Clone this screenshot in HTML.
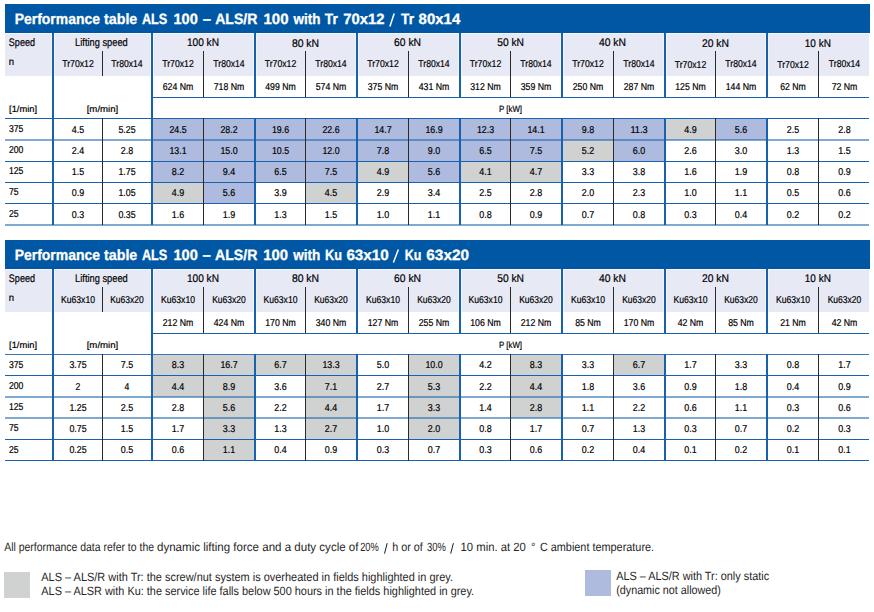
<!DOCTYPE html>
<html><head><meta charset="utf-8"><style>
html,body{margin:0;padding:0;background:#fff;}
body{width:874px;height:612px;overflow:hidden;}
svg{display:block;font-family:"Liberation Sans",sans-serif;text-rendering:geometricPrecision;}
</style></head><body>
<svg width="874" height="612" viewBox="0 0 874 612" shape-rendering="crispEdges">
<rect x="5" y="4" width="865" height="29" fill="#0057a4"/>
<text x="14.80" y="24.00" font-size="15" text-anchor="start" textLength="85.08" lengthAdjust="spacingAndGlyphs" fill="#ffffff" stroke="#ffffff" stroke-width="0.3" font-weight="bold">Performance</text>
<text x="104.10" y="24.00" font-size="15" text-anchor="start" textLength="33.19" lengthAdjust="spacingAndGlyphs" fill="#ffffff" stroke="#ffffff" stroke-width="0.3" font-weight="bold">table</text>
<text x="141.90" y="24.00" font-size="15" text-anchor="start" textLength="25.40" lengthAdjust="spacingAndGlyphs" fill="#ffffff" stroke="#ffffff" stroke-width="0.3" font-weight="bold">ALS</text>
<text x="173.50" y="24.00" font-size="15" text-anchor="start" textLength="24.28" lengthAdjust="spacingAndGlyphs" fill="#ffffff" stroke="#ffffff" stroke-width="0.3" font-weight="bold">100</text>
<text x="202.70" y="24.00" font-size="15" text-anchor="start" textLength="8.32" lengthAdjust="spacingAndGlyphs" fill="#ffffff" stroke="#ffffff" stroke-width="0.3" font-weight="bold">–</text>
<text x="215.20" y="24.00" font-size="15" text-anchor="start" textLength="42.20" lengthAdjust="spacingAndGlyphs" fill="#ffffff" stroke="#ffffff" stroke-width="0.3" font-weight="bold">ALS/R</text>
<text x="263.50" y="24.00" font-size="15" text-anchor="start" textLength="24.98" lengthAdjust="spacingAndGlyphs" fill="#ffffff" stroke="#ffffff" stroke-width="0.3" font-weight="bold">100</text>
<text x="293.57" y="24.00" font-size="15" text-anchor="start" textLength="26.93" lengthAdjust="spacingAndGlyphs" fill="#ffffff" stroke="#ffffff" stroke-width="0.3" font-weight="bold">with</text>
<text x="324.80" y="24.00" font-size="15" text-anchor="start" textLength="13.00" lengthAdjust="spacingAndGlyphs" fill="#ffffff" stroke="#ffffff" stroke-width="0.3" font-weight="bold">Tr</text>
<text x="343.30" y="24.00" font-size="15" text-anchor="start" textLength="41.21" lengthAdjust="spacingAndGlyphs" fill="#ffffff" stroke="#ffffff" stroke-width="0.3" font-weight="bold">70x12</text>
<line x1="394.20" y1="13.40" x2="389.90" y2="26.60" stroke="#ffffff" stroke-width="1.5" shape-rendering="geometricPrecision"/>
<text x="401.00" y="24.00" font-size="15" text-anchor="start" textLength="13.00" lengthAdjust="spacingAndGlyphs" fill="#ffffff" stroke="#ffffff" stroke-width="0.3" font-weight="bold">Tr</text>
<text x="418.60" y="24.00" font-size="15" text-anchor="start" textLength="41.61" lengthAdjust="spacingAndGlyphs" fill="#ffffff" stroke="#ffffff" stroke-width="0.3" font-weight="bold">80x14</text>
<rect x="5" y="33" width="865" height="1" fill="#f5f5fb"/>
<rect x="5" y="34" width="864" height="42" fill="#e7e9f5"/>
<rect x="51" y="34" width="1" height="42" fill="#f3f4fa"/>
<rect x="54" y="34" width="1" height="42" fill="#f3f4fa"/>
<rect x="150" y="34" width="1" height="42" fill="#f3f4fa"/>
<rect x="153" y="34" width="1" height="42" fill="#f3f4fa"/>
<rect x="253" y="34" width="1" height="42" fill="#f3f4fa"/>
<rect x="256" y="34" width="1" height="42" fill="#f3f4fa"/>
<rect x="355" y="34" width="1" height="42" fill="#f3f4fa"/>
<rect x="358" y="34" width="1" height="42" fill="#f3f4fa"/>
<rect x="458" y="34" width="1" height="42" fill="#f3f4fa"/>
<rect x="461" y="34" width="1" height="42" fill="#f3f4fa"/>
<rect x="560" y="34" width="1" height="42" fill="#f3f4fa"/>
<rect x="563" y="34" width="1" height="42" fill="#f3f4fa"/>
<rect x="663" y="34" width="1" height="42" fill="#f3f4fa"/>
<rect x="666" y="34" width="1" height="42" fill="#f3f4fa"/>
<rect x="765" y="34" width="1" height="42" fill="#f3f4fa"/>
<rect x="768" y="34" width="1" height="42" fill="#f3f4fa"/>
<rect x="153" y="119" width="50" height="21" fill="#aebbdf"/>
<rect x="204" y="119" width="50" height="21" fill="#aebbdf"/>
<rect x="256" y="119" width="49" height="21" fill="#aebbdf"/>
<rect x="306" y="119" width="50" height="21" fill="#aebbdf"/>
<rect x="358" y="119" width="50" height="21" fill="#aebbdf"/>
<rect x="409" y="119" width="50" height="21" fill="#aebbdf"/>
<rect x="461" y="119" width="49" height="21" fill="#aebbdf"/>
<rect x="511" y="119" width="50" height="21" fill="#aebbdf"/>
<rect x="563" y="119" width="50" height="21" fill="#aebbdf"/>
<rect x="614" y="119" width="50" height="21" fill="#aebbdf"/>
<rect x="666" y="119" width="49" height="21" fill="#d0d2d2"/>
<rect x="716" y="119" width="50" height="21" fill="#aebbdf"/>
<rect x="153" y="140" width="50" height="21" fill="#aebbdf"/>
<rect x="204" y="140" width="50" height="21" fill="#aebbdf"/>
<rect x="256" y="140" width="49" height="21" fill="#aebbdf"/>
<rect x="306" y="140" width="50" height="21" fill="#aebbdf"/>
<rect x="358" y="140" width="50" height="21" fill="#aebbdf"/>
<rect x="409" y="140" width="50" height="21" fill="#aebbdf"/>
<rect x="461" y="140" width="49" height="21" fill="#aebbdf"/>
<rect x="511" y="140" width="50" height="21" fill="#aebbdf"/>
<rect x="563" y="140" width="50" height="21" fill="#d0d2d2"/>
<rect x="614" y="140" width="50" height="21" fill="#aebbdf"/>
<rect x="153" y="162" width="50" height="20" fill="#aebbdf"/>
<rect x="204" y="162" width="50" height="20" fill="#aebbdf"/>
<rect x="256" y="162" width="49" height="20" fill="#aebbdf"/>
<rect x="306" y="162" width="50" height="20" fill="#aebbdf"/>
<rect x="358" y="162" width="50" height="20" fill="#d0d2d2"/>
<rect x="409" y="162" width="50" height="20" fill="#aebbdf"/>
<rect x="461" y="162" width="49" height="20" fill="#d0d2d2"/>
<rect x="511" y="162" width="50" height="20" fill="#d0d2d2"/>
<rect x="153" y="183" width="50" height="20" fill="#d0d2d2"/>
<rect x="204" y="183" width="50" height="20" fill="#aebbdf"/>
<rect x="306" y="183" width="50" height="20" fill="#d0d2d2"/>
<rect x="151" y="97" width="718" height="1" fill="#1862ad"/>
<rect x="5" y="118" width="864" height="1" fill="#1862ad" fill-opacity="1.0"/>
<rect x="5" y="139" width="864" height="2" fill="#1862ad" fill-opacity="0.55"/>
<rect x="5" y="161" width="864" height="1" fill="#1862ad" fill-opacity="1.0"/>
<rect x="5" y="182" width="864" height="1" fill="#1862ad" fill-opacity="1.0"/>
<rect x="5" y="203" width="864" height="1" fill="#1862ad" fill-opacity="1.0"/>
<rect x="5" y="224" width="864" height="2" fill="#1862ad" fill-opacity="0.55"/>
<rect x="52" y="33" width="2" height="192" fill="#1862ad"/>
<rect x="151" y="33" width="2" height="192" fill="#1862ad"/>
<rect x="254" y="33" width="2" height="64" fill="#1862ad"/>
<rect x="254" y="118" width="2" height="107" fill="#1862ad"/>
<rect x="356" y="33" width="2" height="64" fill="#1862ad"/>
<rect x="356" y="118" width="2" height="107" fill="#1862ad"/>
<rect x="459" y="33" width="2" height="64" fill="#1862ad"/>
<rect x="459" y="118" width="2" height="107" fill="#1862ad"/>
<rect x="561" y="33" width="2" height="64" fill="#1862ad"/>
<rect x="561" y="118" width="2" height="107" fill="#1862ad"/>
<rect x="664" y="33" width="2" height="64" fill="#1862ad"/>
<rect x="664" y="118" width="2" height="107" fill="#1862ad"/>
<rect x="766" y="33" width="2" height="64" fill="#1862ad"/>
<rect x="766" y="118" width="2" height="107" fill="#1862ad"/>
<rect x="102" y="51" width="1" height="25" fill="#2a2a2a"/>
<rect x="102" y="118" width="1" height="107" fill="#2a2a2a"/>
<rect x="203" y="51" width="1" height="46" fill="#2a2a2a"/>
<rect x="203" y="118" width="1" height="107" fill="#2a2a2a"/>
<rect x="305" y="51" width="1" height="46" fill="#2a2a2a"/>
<rect x="305" y="118" width="1" height="107" fill="#2a2a2a"/>
<rect x="408" y="51" width="1" height="46" fill="#2a2a2a"/>
<rect x="408" y="118" width="1" height="107" fill="#2a2a2a"/>
<rect x="510" y="51" width="1" height="46" fill="#2a2a2a"/>
<rect x="510" y="118" width="1" height="107" fill="#2a2a2a"/>
<rect x="613" y="51" width="1" height="46" fill="#2a2a2a"/>
<rect x="613" y="118" width="1" height="107" fill="#2a2a2a"/>
<rect x="715" y="51" width="1" height="46" fill="#2a2a2a"/>
<rect x="715" y="118" width="1" height="107" fill="#2a2a2a"/>
<rect x="818" y="51" width="1" height="46" fill="#2a2a2a"/>
<rect x="818" y="118" width="1" height="107" fill="#2a2a2a"/>
<text x="8.80" y="46.00" font-size="11" text-anchor="start" textLength="26.20" lengthAdjust="spacingAndGlyphs" fill="#000000" stroke="#000000" stroke-width="0.2">Speed</text>
<text x="75.10" y="46.00" font-size="11" text-anchor="start" textLength="52.70" lengthAdjust="spacingAndGlyphs" fill="#000000" stroke="#000000" stroke-width="0.2">Lifting speed</text>
<text x="202.95" y="46.00" font-size="11" text-anchor="middle" textLength="32.10" lengthAdjust="spacingAndGlyphs" fill="#000000" stroke="#000000" stroke-width="0.2">100 kN</text>
<text x="305.50" y="47.00" font-size="11" text-anchor="middle" textLength="27.20" lengthAdjust="spacingAndGlyphs" fill="#000000" stroke="#000000" stroke-width="0.2">80 kN</text>
<text x="407.60" y="46.00" font-size="11" text-anchor="middle" textLength="27.00" lengthAdjust="spacingAndGlyphs" fill="#000000" stroke="#000000" stroke-width="0.2">60 kN</text>
<text x="510.60" y="46.00" font-size="11" text-anchor="middle" textLength="26.80" lengthAdjust="spacingAndGlyphs" fill="#000000" stroke="#000000" stroke-width="0.2">50 kN</text>
<text x="612.50" y="46.00" font-size="11" text-anchor="middle" textLength="27.00" lengthAdjust="spacingAndGlyphs" fill="#000000" stroke="#000000" stroke-width="0.2">40 kN</text>
<text x="715.40" y="47.00" font-size="11" text-anchor="middle" textLength="27.00" lengthAdjust="spacingAndGlyphs" fill="#000000" stroke="#000000" stroke-width="0.2">20 kN</text>
<text x="817.85" y="47.00" font-size="11" text-anchor="middle" textLength="26.10" lengthAdjust="spacingAndGlyphs" fill="#000000" stroke="#000000" stroke-width="0.2">10 kN</text>
<text x="8.80" y="65.00" font-size="10" text-anchor="start" textLength="5.30" lengthAdjust="spacingAndGlyphs" fill="#000000" stroke="#000000" stroke-width="0.2">n</text>
<text x="78.00" y="66.80" font-size="10" text-anchor="middle" textLength="31.50" lengthAdjust="spacingAndGlyphs" fill="#000000" stroke="#000000" stroke-width="0.2">Tr70x12</text>
<text x="127.00" y="66.80" font-size="10" text-anchor="middle" textLength="31.30" lengthAdjust="spacingAndGlyphs" fill="#000000" stroke="#000000" stroke-width="0.2">Tr80x14</text>
<text x="178.00" y="66.80" font-size="10" text-anchor="middle" textLength="31.50" lengthAdjust="spacingAndGlyphs" fill="#000000" stroke="#000000" stroke-width="0.2">Tr70x12</text>
<text x="178.00" y="90.00" font-size="10" text-anchor="middle" textLength="30.56" lengthAdjust="spacingAndGlyphs" fill="#000000" stroke="#000000" stroke-width="0.2">624 Nm</text>
<text x="229.00" y="66.80" font-size="10" text-anchor="middle" textLength="31.30" lengthAdjust="spacingAndGlyphs" fill="#000000" stroke="#000000" stroke-width="0.2">Tr80x14</text>
<text x="229.00" y="90.00" font-size="10" text-anchor="middle" textLength="30.56" lengthAdjust="spacingAndGlyphs" fill="#000000" stroke="#000000" stroke-width="0.2">718 Nm</text>
<text x="280.50" y="66.80" font-size="10" text-anchor="middle" textLength="31.50" lengthAdjust="spacingAndGlyphs" fill="#000000" stroke="#000000" stroke-width="0.2">Tr70x12</text>
<text x="280.50" y="90.00" font-size="10" text-anchor="middle" textLength="30.56" lengthAdjust="spacingAndGlyphs" fill="#000000" stroke="#000000" stroke-width="0.2">499 Nm</text>
<text x="331.00" y="66.80" font-size="10" text-anchor="middle" textLength="31.30" lengthAdjust="spacingAndGlyphs" fill="#000000" stroke="#000000" stroke-width="0.2">Tr80x14</text>
<text x="331.00" y="90.00" font-size="10" text-anchor="middle" textLength="30.56" lengthAdjust="spacingAndGlyphs" fill="#000000" stroke="#000000" stroke-width="0.2">574 Nm</text>
<text x="383.00" y="66.80" font-size="10" text-anchor="middle" textLength="31.50" lengthAdjust="spacingAndGlyphs" fill="#000000" stroke="#000000" stroke-width="0.2">Tr70x12</text>
<text x="383.00" y="90.00" font-size="10" text-anchor="middle" textLength="30.56" lengthAdjust="spacingAndGlyphs" fill="#000000" stroke="#000000" stroke-width="0.2">375 Nm</text>
<text x="434.00" y="66.80" font-size="10" text-anchor="middle" textLength="31.30" lengthAdjust="spacingAndGlyphs" fill="#000000" stroke="#000000" stroke-width="0.2">Tr80x14</text>
<text x="434.00" y="90.00" font-size="10" text-anchor="middle" textLength="30.56" lengthAdjust="spacingAndGlyphs" fill="#000000" stroke="#000000" stroke-width="0.2">431 Nm</text>
<text x="485.50" y="66.80" font-size="10" text-anchor="middle" textLength="31.50" lengthAdjust="spacingAndGlyphs" fill="#000000" stroke="#000000" stroke-width="0.2">Tr70x12</text>
<text x="485.50" y="90.00" font-size="10" text-anchor="middle" textLength="30.56" lengthAdjust="spacingAndGlyphs" fill="#000000" stroke="#000000" stroke-width="0.2">312 Nm</text>
<text x="536.00" y="66.80" font-size="10" text-anchor="middle" textLength="31.30" lengthAdjust="spacingAndGlyphs" fill="#000000" stroke="#000000" stroke-width="0.2">Tr80x14</text>
<text x="536.00" y="90.00" font-size="10" text-anchor="middle" textLength="30.56" lengthAdjust="spacingAndGlyphs" fill="#000000" stroke="#000000" stroke-width="0.2">359 Nm</text>
<text x="588.00" y="66.80" font-size="10" text-anchor="middle" textLength="31.50" lengthAdjust="spacingAndGlyphs" fill="#000000" stroke="#000000" stroke-width="0.2">Tr70x12</text>
<text x="588.00" y="90.00" font-size="10" text-anchor="middle" textLength="30.56" lengthAdjust="spacingAndGlyphs" fill="#000000" stroke="#000000" stroke-width="0.2">250 Nm</text>
<text x="639.00" y="66.80" font-size="10" text-anchor="middle" textLength="31.30" lengthAdjust="spacingAndGlyphs" fill="#000000" stroke="#000000" stroke-width="0.2">Tr80x14</text>
<text x="639.00" y="90.00" font-size="10" text-anchor="middle" textLength="30.56" lengthAdjust="spacingAndGlyphs" fill="#000000" stroke="#000000" stroke-width="0.2">287 Nm</text>
<text x="690.50" y="68.30" font-size="10" text-anchor="middle" textLength="31.50" lengthAdjust="spacingAndGlyphs" fill="#000000" stroke="#000000" stroke-width="0.2">Tr70x12</text>
<text x="690.50" y="90.00" font-size="10" text-anchor="middle" textLength="30.56" lengthAdjust="spacingAndGlyphs" fill="#000000" stroke="#000000" stroke-width="0.2">125 Nm</text>
<text x="741.00" y="66.80" font-size="10" text-anchor="middle" textLength="31.30" lengthAdjust="spacingAndGlyphs" fill="#000000" stroke="#000000" stroke-width="0.2">Tr80x14</text>
<text x="741.00" y="90.00" font-size="10" text-anchor="middle" textLength="30.56" lengthAdjust="spacingAndGlyphs" fill="#000000" stroke="#000000" stroke-width="0.2">144 Nm</text>
<text x="793.00" y="68.30" font-size="10" text-anchor="middle" textLength="31.50" lengthAdjust="spacingAndGlyphs" fill="#000000" stroke="#000000" stroke-width="0.2">Tr70x12</text>
<text x="793.00" y="90.00" font-size="10" text-anchor="middle" textLength="25.75" lengthAdjust="spacingAndGlyphs" fill="#000000" stroke="#000000" stroke-width="0.2">62 Nm</text>
<text x="844.50" y="66.80" font-size="10" text-anchor="middle" textLength="31.30" lengthAdjust="spacingAndGlyphs" fill="#000000" stroke="#000000" stroke-width="0.2">Tr80x14</text>
<text x="844.50" y="90.00" font-size="10" text-anchor="middle" textLength="25.75" lengthAdjust="spacingAndGlyphs" fill="#000000" stroke="#000000" stroke-width="0.2">72 Nm</text>
<text x="9.10" y="111.80" font-size="9" text-anchor="start" textLength="27.90" lengthAdjust="spacingAndGlyphs" fill="#000000" stroke="#000000" stroke-width="0.2">[1/min]</text>
<text x="102.50" y="111.80" font-size="9" text-anchor="middle" textLength="31.60" lengthAdjust="spacingAndGlyphs" fill="#000000" stroke="#000000" stroke-width="0.2">[m/min]</text>
<text x="510.50" y="111.80" font-size="9" text-anchor="middle" textLength="23.10" lengthAdjust="spacingAndGlyphs" fill="#000000" stroke="#000000" stroke-width="0.2">P [kW]</text>
<text x="9.00" y="132.00" font-size="10" text-anchor="start" textLength="14.43" lengthAdjust="spacingAndGlyphs" fill="#000000" stroke="#000000" stroke-width="0.2">375</text>
<text x="78.00" y="133.00" font-size="10" text-anchor="middle" textLength="12.40" lengthAdjust="spacingAndGlyphs" fill="#000000" stroke="#000000" stroke-width="0.2">4.5</text>
<text x="127.00" y="133.00" font-size="10" text-anchor="middle" textLength="17.21" lengthAdjust="spacingAndGlyphs" fill="#000000" stroke="#000000" stroke-width="0.2">5.25</text>
<text x="178.00" y="133.00" font-size="10" text-anchor="middle" textLength="17.21" lengthAdjust="spacingAndGlyphs" fill="#000000" stroke="#000000" stroke-width="0.2">24.5</text>
<text x="229.00" y="133.00" font-size="10" text-anchor="middle" textLength="17.21" lengthAdjust="spacingAndGlyphs" fill="#000000" stroke="#000000" stroke-width="0.2">28.2</text>
<text x="280.50" y="133.00" font-size="10" text-anchor="middle" textLength="17.21" lengthAdjust="spacingAndGlyphs" fill="#000000" stroke="#000000" stroke-width="0.2">19.6</text>
<text x="331.00" y="133.00" font-size="10" text-anchor="middle" textLength="17.21" lengthAdjust="spacingAndGlyphs" fill="#000000" stroke="#000000" stroke-width="0.2">22.6</text>
<text x="383.00" y="133.00" font-size="10" text-anchor="middle" textLength="17.21" lengthAdjust="spacingAndGlyphs" fill="#000000" stroke="#000000" stroke-width="0.2">14.7</text>
<text x="434.00" y="133.00" font-size="10" text-anchor="middle" textLength="17.21" lengthAdjust="spacingAndGlyphs" fill="#000000" stroke="#000000" stroke-width="0.2">16.9</text>
<text x="485.50" y="133.00" font-size="10" text-anchor="middle" textLength="17.21" lengthAdjust="spacingAndGlyphs" fill="#000000" stroke="#000000" stroke-width="0.2">12.3</text>
<text x="536.00" y="133.00" font-size="10" text-anchor="middle" textLength="17.21" lengthAdjust="spacingAndGlyphs" fill="#000000" stroke="#000000" stroke-width="0.2">14.1</text>
<text x="588.00" y="133.00" font-size="10" text-anchor="middle" textLength="12.40" lengthAdjust="spacingAndGlyphs" fill="#000000" stroke="#000000" stroke-width="0.2">9.8</text>
<text x="639.00" y="133.00" font-size="10" text-anchor="middle" textLength="17.21" lengthAdjust="spacingAndGlyphs" fill="#000000" stroke="#000000" stroke-width="0.2">11.3</text>
<text x="690.50" y="133.00" font-size="10" text-anchor="middle" textLength="12.40" lengthAdjust="spacingAndGlyphs" fill="#000000" stroke="#000000" stroke-width="0.2">4.9</text>
<text x="741.00" y="133.00" font-size="10" text-anchor="middle" textLength="12.40" lengthAdjust="spacingAndGlyphs" fill="#000000" stroke="#000000" stroke-width="0.2">5.6</text>
<text x="793.00" y="133.00" font-size="10" text-anchor="middle" textLength="12.40" lengthAdjust="spacingAndGlyphs" fill="#000000" stroke="#000000" stroke-width="0.2">2.5</text>
<text x="844.50" y="133.00" font-size="10" text-anchor="middle" textLength="12.40" lengthAdjust="spacingAndGlyphs" fill="#000000" stroke="#000000" stroke-width="0.2">2.8</text>
<text x="9.00" y="153.00" font-size="10" text-anchor="start" textLength="14.43" lengthAdjust="spacingAndGlyphs" fill="#000000" stroke="#000000" stroke-width="0.2">200</text>
<text x="78.00" y="154.00" font-size="10" text-anchor="middle" textLength="12.40" lengthAdjust="spacingAndGlyphs" fill="#000000" stroke="#000000" stroke-width="0.2">2.4</text>
<text x="127.00" y="154.00" font-size="10" text-anchor="middle" textLength="12.40" lengthAdjust="spacingAndGlyphs" fill="#000000" stroke="#000000" stroke-width="0.2">2.8</text>
<text x="178.00" y="154.00" font-size="10" text-anchor="middle" textLength="17.21" lengthAdjust="spacingAndGlyphs" fill="#000000" stroke="#000000" stroke-width="0.2">13.1</text>
<text x="229.00" y="154.00" font-size="10" text-anchor="middle" textLength="17.21" lengthAdjust="spacingAndGlyphs" fill="#000000" stroke="#000000" stroke-width="0.2">15.0</text>
<text x="280.50" y="154.00" font-size="10" text-anchor="middle" textLength="17.21" lengthAdjust="spacingAndGlyphs" fill="#000000" stroke="#000000" stroke-width="0.2">10.5</text>
<text x="331.00" y="154.00" font-size="10" text-anchor="middle" textLength="17.21" lengthAdjust="spacingAndGlyphs" fill="#000000" stroke="#000000" stroke-width="0.2">12.0</text>
<text x="383.00" y="154.00" font-size="10" text-anchor="middle" textLength="12.40" lengthAdjust="spacingAndGlyphs" fill="#000000" stroke="#000000" stroke-width="0.2">7.8</text>
<text x="434.00" y="154.00" font-size="10" text-anchor="middle" textLength="12.40" lengthAdjust="spacingAndGlyphs" fill="#000000" stroke="#000000" stroke-width="0.2">9.0</text>
<text x="485.50" y="154.00" font-size="10" text-anchor="middle" textLength="12.40" lengthAdjust="spacingAndGlyphs" fill="#000000" stroke="#000000" stroke-width="0.2">6.5</text>
<text x="536.00" y="154.00" font-size="10" text-anchor="middle" textLength="12.40" lengthAdjust="spacingAndGlyphs" fill="#000000" stroke="#000000" stroke-width="0.2">7.5</text>
<text x="588.00" y="154.00" font-size="10" text-anchor="middle" textLength="12.40" lengthAdjust="spacingAndGlyphs" fill="#000000" stroke="#000000" stroke-width="0.2">5.2</text>
<text x="639.00" y="154.00" font-size="10" text-anchor="middle" textLength="12.40" lengthAdjust="spacingAndGlyphs" fill="#000000" stroke="#000000" stroke-width="0.2">6.0</text>
<text x="690.50" y="154.00" font-size="10" text-anchor="middle" textLength="12.40" lengthAdjust="spacingAndGlyphs" fill="#000000" stroke="#000000" stroke-width="0.2">2.6</text>
<text x="741.00" y="154.00" font-size="10" text-anchor="middle" textLength="12.40" lengthAdjust="spacingAndGlyphs" fill="#000000" stroke="#000000" stroke-width="0.2">3.0</text>
<text x="793.00" y="154.00" font-size="10" text-anchor="middle" textLength="12.40" lengthAdjust="spacingAndGlyphs" fill="#000000" stroke="#000000" stroke-width="0.2">1.3</text>
<text x="844.50" y="154.00" font-size="10" text-anchor="middle" textLength="12.40" lengthAdjust="spacingAndGlyphs" fill="#000000" stroke="#000000" stroke-width="0.2">1.5</text>
<text x="9.00" y="174.00" font-size="10" text-anchor="start" textLength="14.43" lengthAdjust="spacingAndGlyphs" fill="#000000" stroke="#000000" stroke-width="0.2">125</text>
<text x="78.00" y="175.00" font-size="10" text-anchor="middle" textLength="12.40" lengthAdjust="spacingAndGlyphs" fill="#000000" stroke="#000000" stroke-width="0.2">1.5</text>
<text x="127.00" y="175.00" font-size="10" text-anchor="middle" textLength="17.21" lengthAdjust="spacingAndGlyphs" fill="#000000" stroke="#000000" stroke-width="0.2">1.75</text>
<text x="178.00" y="175.00" font-size="10" text-anchor="middle" textLength="12.40" lengthAdjust="spacingAndGlyphs" fill="#000000" stroke="#000000" stroke-width="0.2">8.2</text>
<text x="229.00" y="175.00" font-size="10" text-anchor="middle" textLength="12.40" lengthAdjust="spacingAndGlyphs" fill="#000000" stroke="#000000" stroke-width="0.2">9.4</text>
<text x="280.50" y="175.00" font-size="10" text-anchor="middle" textLength="12.40" lengthAdjust="spacingAndGlyphs" fill="#000000" stroke="#000000" stroke-width="0.2">6.5</text>
<text x="331.00" y="175.00" font-size="10" text-anchor="middle" textLength="12.40" lengthAdjust="spacingAndGlyphs" fill="#000000" stroke="#000000" stroke-width="0.2">7.5</text>
<text x="383.00" y="175.00" font-size="10" text-anchor="middle" textLength="12.40" lengthAdjust="spacingAndGlyphs" fill="#000000" stroke="#000000" stroke-width="0.2">4.9</text>
<text x="434.00" y="175.00" font-size="10" text-anchor="middle" textLength="12.40" lengthAdjust="spacingAndGlyphs" fill="#000000" stroke="#000000" stroke-width="0.2">5.6</text>
<text x="485.50" y="175.00" font-size="10" text-anchor="middle" textLength="12.40" lengthAdjust="spacingAndGlyphs" fill="#000000" stroke="#000000" stroke-width="0.2">4.1</text>
<text x="536.00" y="175.00" font-size="10" text-anchor="middle" textLength="12.40" lengthAdjust="spacingAndGlyphs" fill="#000000" stroke="#000000" stroke-width="0.2">4.7</text>
<text x="588.00" y="175.00" font-size="10" text-anchor="middle" textLength="12.40" lengthAdjust="spacingAndGlyphs" fill="#000000" stroke="#000000" stroke-width="0.2">3.3</text>
<text x="639.00" y="175.00" font-size="10" text-anchor="middle" textLength="12.40" lengthAdjust="spacingAndGlyphs" fill="#000000" stroke="#000000" stroke-width="0.2">3.8</text>
<text x="690.50" y="175.00" font-size="10" text-anchor="middle" textLength="12.40" lengthAdjust="spacingAndGlyphs" fill="#000000" stroke="#000000" stroke-width="0.2">1.6</text>
<text x="741.00" y="175.00" font-size="10" text-anchor="middle" textLength="12.40" lengthAdjust="spacingAndGlyphs" fill="#000000" stroke="#000000" stroke-width="0.2">1.9</text>
<text x="793.00" y="175.00" font-size="10" text-anchor="middle" textLength="12.40" lengthAdjust="spacingAndGlyphs" fill="#000000" stroke="#000000" stroke-width="0.2">0.8</text>
<text x="844.50" y="175.00" font-size="10" text-anchor="middle" textLength="12.40" lengthAdjust="spacingAndGlyphs" fill="#000000" stroke="#000000" stroke-width="0.2">0.9</text>
<text x="9.00" y="195.00" font-size="10" text-anchor="start" textLength="9.62" lengthAdjust="spacingAndGlyphs" fill="#000000" stroke="#000000" stroke-width="0.2">75</text>
<text x="78.00" y="196.00" font-size="10" text-anchor="middle" textLength="12.40" lengthAdjust="spacingAndGlyphs" fill="#000000" stroke="#000000" stroke-width="0.2">0.9</text>
<text x="127.00" y="196.00" font-size="10" text-anchor="middle" textLength="17.21" lengthAdjust="spacingAndGlyphs" fill="#000000" stroke="#000000" stroke-width="0.2">1.05</text>
<text x="178.00" y="196.00" font-size="10" text-anchor="middle" textLength="12.40" lengthAdjust="spacingAndGlyphs" fill="#000000" stroke="#000000" stroke-width="0.2">4.9</text>
<text x="229.00" y="196.00" font-size="10" text-anchor="middle" textLength="12.40" lengthAdjust="spacingAndGlyphs" fill="#000000" stroke="#000000" stroke-width="0.2">5.6</text>
<text x="280.50" y="196.00" font-size="10" text-anchor="middle" textLength="12.40" lengthAdjust="spacingAndGlyphs" fill="#000000" stroke="#000000" stroke-width="0.2">3.9</text>
<text x="331.00" y="196.00" font-size="10" text-anchor="middle" textLength="12.40" lengthAdjust="spacingAndGlyphs" fill="#000000" stroke="#000000" stroke-width="0.2">4.5</text>
<text x="383.00" y="196.00" font-size="10" text-anchor="middle" textLength="12.40" lengthAdjust="spacingAndGlyphs" fill="#000000" stroke="#000000" stroke-width="0.2">2.9</text>
<text x="434.00" y="196.00" font-size="10" text-anchor="middle" textLength="12.40" lengthAdjust="spacingAndGlyphs" fill="#000000" stroke="#000000" stroke-width="0.2">3.4</text>
<text x="485.50" y="196.00" font-size="10" text-anchor="middle" textLength="12.40" lengthAdjust="spacingAndGlyphs" fill="#000000" stroke="#000000" stroke-width="0.2">2.5</text>
<text x="536.00" y="196.00" font-size="10" text-anchor="middle" textLength="12.40" lengthAdjust="spacingAndGlyphs" fill="#000000" stroke="#000000" stroke-width="0.2">2.8</text>
<text x="588.00" y="196.00" font-size="10" text-anchor="middle" textLength="12.40" lengthAdjust="spacingAndGlyphs" fill="#000000" stroke="#000000" stroke-width="0.2">2.0</text>
<text x="639.00" y="196.00" font-size="10" text-anchor="middle" textLength="12.40" lengthAdjust="spacingAndGlyphs" fill="#000000" stroke="#000000" stroke-width="0.2">2.3</text>
<text x="690.50" y="196.00" font-size="10" text-anchor="middle" textLength="12.40" lengthAdjust="spacingAndGlyphs" fill="#000000" stroke="#000000" stroke-width="0.2">1.0</text>
<text x="741.00" y="196.00" font-size="10" text-anchor="middle" textLength="12.40" lengthAdjust="spacingAndGlyphs" fill="#000000" stroke="#000000" stroke-width="0.2">1.1</text>
<text x="793.00" y="196.00" font-size="10" text-anchor="middle" textLength="12.40" lengthAdjust="spacingAndGlyphs" fill="#000000" stroke="#000000" stroke-width="0.2">0.5</text>
<text x="844.50" y="196.00" font-size="10" text-anchor="middle" textLength="12.40" lengthAdjust="spacingAndGlyphs" fill="#000000" stroke="#000000" stroke-width="0.2">0.6</text>
<text x="9.00" y="217.00" font-size="10" text-anchor="start" textLength="9.62" lengthAdjust="spacingAndGlyphs" fill="#000000" stroke="#000000" stroke-width="0.2">25</text>
<text x="78.00" y="218.00" font-size="10" text-anchor="middle" textLength="12.40" lengthAdjust="spacingAndGlyphs" fill="#000000" stroke="#000000" stroke-width="0.2">0.3</text>
<text x="127.00" y="218.00" font-size="10" text-anchor="middle" textLength="17.21" lengthAdjust="spacingAndGlyphs" fill="#000000" stroke="#000000" stroke-width="0.2">0.35</text>
<text x="178.00" y="218.00" font-size="10" text-anchor="middle" textLength="12.40" lengthAdjust="spacingAndGlyphs" fill="#000000" stroke="#000000" stroke-width="0.2">1.6</text>
<text x="229.00" y="218.00" font-size="10" text-anchor="middle" textLength="12.40" lengthAdjust="spacingAndGlyphs" fill="#000000" stroke="#000000" stroke-width="0.2">1.9</text>
<text x="280.50" y="218.00" font-size="10" text-anchor="middle" textLength="12.40" lengthAdjust="spacingAndGlyphs" fill="#000000" stroke="#000000" stroke-width="0.2">1.3</text>
<text x="331.00" y="218.00" font-size="10" text-anchor="middle" textLength="12.40" lengthAdjust="spacingAndGlyphs" fill="#000000" stroke="#000000" stroke-width="0.2">1.5</text>
<text x="383.00" y="218.00" font-size="10" text-anchor="middle" textLength="12.40" lengthAdjust="spacingAndGlyphs" fill="#000000" stroke="#000000" stroke-width="0.2">1.0</text>
<text x="434.00" y="218.00" font-size="10" text-anchor="middle" textLength="12.40" lengthAdjust="spacingAndGlyphs" fill="#000000" stroke="#000000" stroke-width="0.2">1.1</text>
<text x="485.50" y="218.00" font-size="10" text-anchor="middle" textLength="12.40" lengthAdjust="spacingAndGlyphs" fill="#000000" stroke="#000000" stroke-width="0.2">0.8</text>
<text x="536.00" y="218.00" font-size="10" text-anchor="middle" textLength="12.40" lengthAdjust="spacingAndGlyphs" fill="#000000" stroke="#000000" stroke-width="0.2">0.9</text>
<text x="588.00" y="218.00" font-size="10" text-anchor="middle" textLength="12.40" lengthAdjust="spacingAndGlyphs" fill="#000000" stroke="#000000" stroke-width="0.2">0.7</text>
<text x="639.00" y="218.00" font-size="10" text-anchor="middle" textLength="12.40" lengthAdjust="spacingAndGlyphs" fill="#000000" stroke="#000000" stroke-width="0.2">0.8</text>
<text x="690.50" y="218.00" font-size="10" text-anchor="middle" textLength="12.40" lengthAdjust="spacingAndGlyphs" fill="#000000" stroke="#000000" stroke-width="0.2">0.3</text>
<text x="741.00" y="218.00" font-size="10" text-anchor="middle" textLength="12.40" lengthAdjust="spacingAndGlyphs" fill="#000000" stroke="#000000" stroke-width="0.2">0.4</text>
<text x="793.00" y="218.00" font-size="10" text-anchor="middle" textLength="12.40" lengthAdjust="spacingAndGlyphs" fill="#000000" stroke="#000000" stroke-width="0.2">0.2</text>
<text x="844.50" y="218.00" font-size="10" text-anchor="middle" textLength="12.40" lengthAdjust="spacingAndGlyphs" fill="#000000" stroke="#000000" stroke-width="0.2">0.2</text>
<rect x="5" y="240" width="865" height="29" fill="#0057a4"/>
<text x="14.80" y="260.00" font-size="15" text-anchor="start" textLength="85.08" lengthAdjust="spacingAndGlyphs" fill="#ffffff" stroke="#ffffff" stroke-width="0.3" font-weight="bold">Performance</text>
<text x="104.10" y="260.00" font-size="15" text-anchor="start" textLength="33.19" lengthAdjust="spacingAndGlyphs" fill="#ffffff" stroke="#ffffff" stroke-width="0.3" font-weight="bold">table</text>
<text x="141.90" y="260.00" font-size="15" text-anchor="start" textLength="25.40" lengthAdjust="spacingAndGlyphs" fill="#ffffff" stroke="#ffffff" stroke-width="0.3" font-weight="bold">ALS</text>
<text x="173.50" y="260.00" font-size="15" text-anchor="start" textLength="24.28" lengthAdjust="spacingAndGlyphs" fill="#ffffff" stroke="#ffffff" stroke-width="0.3" font-weight="bold">100</text>
<text x="202.50" y="260.00" font-size="15" text-anchor="start" textLength="8.32" lengthAdjust="spacingAndGlyphs" fill="#ffffff" stroke="#ffffff" stroke-width="0.3" font-weight="bold">–</text>
<text x="215.10" y="260.00" font-size="15" text-anchor="start" textLength="42.20" lengthAdjust="spacingAndGlyphs" fill="#ffffff" stroke="#ffffff" stroke-width="0.3" font-weight="bold">ALS/R</text>
<text x="263.30" y="260.00" font-size="15" text-anchor="start" textLength="24.78" lengthAdjust="spacingAndGlyphs" fill="#ffffff" stroke="#ffffff" stroke-width="0.3" font-weight="bold">100</text>
<text x="293.27" y="260.00" font-size="15" text-anchor="start" textLength="27.03" lengthAdjust="spacingAndGlyphs" fill="#ffffff" stroke="#ffffff" stroke-width="0.3" font-weight="bold">with</text>
<text x="325.00" y="260.00" font-size="15" text-anchor="start" textLength="16.98" lengthAdjust="spacingAndGlyphs" fill="#ffffff" stroke="#ffffff" stroke-width="0.3" font-weight="bold">Ku</text>
<text x="346.40" y="260.00" font-size="15" text-anchor="start" textLength="42.31" lengthAdjust="spacingAndGlyphs" fill="#ffffff" stroke="#ffffff" stroke-width="0.3" font-weight="bold">63x10</text>
<line x1="398.40" y1="249.40" x2="393.40" y2="262.60" stroke="#ffffff" stroke-width="1.5" shape-rendering="geometricPrecision"/>
<text x="404.80" y="260.00" font-size="15" text-anchor="start" textLength="16.68" lengthAdjust="spacingAndGlyphs" fill="#ffffff" stroke="#ffffff" stroke-width="0.3" font-weight="bold">Ku</text>
<text x="426.30" y="260.00" font-size="15" text-anchor="start" textLength="42.71" lengthAdjust="spacingAndGlyphs" fill="#ffffff" stroke="#ffffff" stroke-width="0.3" font-weight="bold">63x20</text>
<rect x="5" y="269" width="865" height="1" fill="#f5f5fb"/>
<rect x="5" y="270" width="864" height="42" fill="#e7e9f5"/>
<rect x="51" y="270" width="1" height="42" fill="#f3f4fa"/>
<rect x="54" y="270" width="1" height="42" fill="#f3f4fa"/>
<rect x="150" y="270" width="1" height="42" fill="#f3f4fa"/>
<rect x="153" y="270" width="1" height="42" fill="#f3f4fa"/>
<rect x="253" y="270" width="1" height="42" fill="#f3f4fa"/>
<rect x="256" y="270" width="1" height="42" fill="#f3f4fa"/>
<rect x="355" y="270" width="1" height="42" fill="#f3f4fa"/>
<rect x="358" y="270" width="1" height="42" fill="#f3f4fa"/>
<rect x="458" y="270" width="1" height="42" fill="#f3f4fa"/>
<rect x="461" y="270" width="1" height="42" fill="#f3f4fa"/>
<rect x="560" y="270" width="1" height="42" fill="#f3f4fa"/>
<rect x="563" y="270" width="1" height="42" fill="#f3f4fa"/>
<rect x="663" y="270" width="1" height="42" fill="#f3f4fa"/>
<rect x="666" y="270" width="1" height="42" fill="#f3f4fa"/>
<rect x="765" y="270" width="1" height="42" fill="#f3f4fa"/>
<rect x="768" y="270" width="1" height="42" fill="#f3f4fa"/>
<rect x="153" y="355" width="50" height="20" fill="#d0d2d2"/>
<rect x="204" y="355" width="50" height="20" fill="#d0d2d2"/>
<rect x="256" y="355" width="49" height="20" fill="#d0d2d2"/>
<rect x="306" y="355" width="50" height="20" fill="#d0d2d2"/>
<rect x="409" y="355" width="50" height="20" fill="#d0d2d2"/>
<rect x="511" y="355" width="50" height="20" fill="#d0d2d2"/>
<rect x="614" y="355" width="50" height="20" fill="#d0d2d2"/>
<rect x="153" y="376" width="50" height="21" fill="#d0d2d2"/>
<rect x="204" y="376" width="50" height="21" fill="#d0d2d2"/>
<rect x="306" y="376" width="50" height="21" fill="#d0d2d2"/>
<rect x="409" y="376" width="50" height="21" fill="#d0d2d2"/>
<rect x="511" y="376" width="50" height="21" fill="#d0d2d2"/>
<rect x="204" y="397" width="50" height="21" fill="#d0d2d2"/>
<rect x="306" y="397" width="50" height="21" fill="#d0d2d2"/>
<rect x="409" y="397" width="50" height="21" fill="#d0d2d2"/>
<rect x="511" y="397" width="50" height="21" fill="#d0d2d2"/>
<rect x="204" y="418" width="50" height="21" fill="#d0d2d2"/>
<rect x="306" y="418" width="50" height="21" fill="#d0d2d2"/>
<rect x="409" y="418" width="50" height="21" fill="#d0d2d2"/>
<rect x="204" y="440" width="50" height="20" fill="#d0d2d2"/>
<rect x="151" y="333" width="718" height="1" fill="#1862ad"/>
<rect x="5" y="354" width="864" height="1" fill="#1862ad" fill-opacity="0.85"/>
<rect x="5" y="375" width="864" height="1" fill="#1862ad" fill-opacity="1.0"/>
<rect x="5" y="396" width="864" height="2" fill="#1862ad" fill-opacity="0.55"/>
<rect x="5" y="417" width="864" height="2" fill="#1862ad" fill-opacity="0.55"/>
<rect x="5" y="439" width="864" height="1" fill="#1862ad" fill-opacity="1.0"/>
<rect x="5" y="460" width="864" height="1" fill="#1862ad" fill-opacity="1.0"/>
<rect x="52" y="269" width="2" height="192" fill="#1862ad"/>
<rect x="151" y="269" width="2" height="192" fill="#1862ad"/>
<rect x="254" y="269" width="2" height="64" fill="#1862ad"/>
<rect x="254" y="354" width="2" height="107" fill="#1862ad"/>
<rect x="356" y="269" width="2" height="64" fill="#1862ad"/>
<rect x="356" y="354" width="2" height="107" fill="#1862ad"/>
<rect x="459" y="269" width="2" height="64" fill="#1862ad"/>
<rect x="459" y="354" width="2" height="107" fill="#1862ad"/>
<rect x="561" y="269" width="2" height="64" fill="#1862ad"/>
<rect x="561" y="354" width="2" height="107" fill="#1862ad"/>
<rect x="664" y="269" width="2" height="64" fill="#1862ad"/>
<rect x="664" y="354" width="2" height="107" fill="#1862ad"/>
<rect x="766" y="269" width="2" height="64" fill="#1862ad"/>
<rect x="766" y="354" width="2" height="107" fill="#1862ad"/>
<rect x="102" y="287" width="1" height="25" fill="#2a2a2a"/>
<rect x="102" y="354" width="1" height="107" fill="#2a2a2a"/>
<rect x="203" y="287" width="1" height="46" fill="#2a2a2a"/>
<rect x="203" y="354" width="1" height="107" fill="#2a2a2a"/>
<rect x="305" y="287" width="1" height="46" fill="#2a2a2a"/>
<rect x="305" y="354" width="1" height="107" fill="#2a2a2a"/>
<rect x="408" y="287" width="1" height="46" fill="#2a2a2a"/>
<rect x="408" y="354" width="1" height="107" fill="#2a2a2a"/>
<rect x="510" y="287" width="1" height="46" fill="#2a2a2a"/>
<rect x="510" y="354" width="1" height="107" fill="#2a2a2a"/>
<rect x="613" y="287" width="1" height="46" fill="#2a2a2a"/>
<rect x="613" y="354" width="1" height="107" fill="#2a2a2a"/>
<rect x="715" y="287" width="1" height="46" fill="#2a2a2a"/>
<rect x="715" y="354" width="1" height="107" fill="#2a2a2a"/>
<rect x="818" y="287" width="1" height="46" fill="#2a2a2a"/>
<rect x="818" y="354" width="1" height="107" fill="#2a2a2a"/>
<text x="8.80" y="282.00" font-size="11" text-anchor="start" textLength="26.20" lengthAdjust="spacingAndGlyphs" fill="#000000" stroke="#000000" stroke-width="0.2">Speed</text>
<text x="75.10" y="282.00" font-size="11" text-anchor="start" textLength="52.70" lengthAdjust="spacingAndGlyphs" fill="#000000" stroke="#000000" stroke-width="0.2">Lifting speed</text>
<text x="202.95" y="282.00" font-size="11" text-anchor="middle" textLength="32.10" lengthAdjust="spacingAndGlyphs" fill="#000000" stroke="#000000" stroke-width="0.2">100 kN</text>
<text x="305.50" y="282.00" font-size="11" text-anchor="middle" textLength="27.20" lengthAdjust="spacingAndGlyphs" fill="#000000" stroke="#000000" stroke-width="0.2">80 kN</text>
<text x="407.60" y="282.00" font-size="11" text-anchor="middle" textLength="27.00" lengthAdjust="spacingAndGlyphs" fill="#000000" stroke="#000000" stroke-width="0.2">60 kN</text>
<text x="510.60" y="282.00" font-size="11" text-anchor="middle" textLength="26.80" lengthAdjust="spacingAndGlyphs" fill="#000000" stroke="#000000" stroke-width="0.2">50 kN</text>
<text x="612.50" y="282.00" font-size="11" text-anchor="middle" textLength="27.00" lengthAdjust="spacingAndGlyphs" fill="#000000" stroke="#000000" stroke-width="0.2">40 kN</text>
<text x="715.40" y="282.00" font-size="11" text-anchor="middle" textLength="27.00" lengthAdjust="spacingAndGlyphs" fill="#000000" stroke="#000000" stroke-width="0.2">20 kN</text>
<text x="817.85" y="282.00" font-size="11" text-anchor="middle" textLength="26.10" lengthAdjust="spacingAndGlyphs" fill="#000000" stroke="#000000" stroke-width="0.2">10 kN</text>
<text x="8.80" y="301.00" font-size="10" text-anchor="start" textLength="5.30" lengthAdjust="spacingAndGlyphs" fill="#000000" stroke="#000000" stroke-width="0.2">n</text>
<text x="78.00" y="302.80" font-size="10" text-anchor="middle" textLength="34.00" lengthAdjust="spacingAndGlyphs" fill="#000000" stroke="#000000" stroke-width="0.2">Ku63x10</text>
<text x="127.00" y="302.80" font-size="10" text-anchor="middle" textLength="33.60" lengthAdjust="spacingAndGlyphs" fill="#000000" stroke="#000000" stroke-width="0.2">Ku63x20</text>
<text x="178.00" y="302.80" font-size="10" text-anchor="middle" textLength="34.00" lengthAdjust="spacingAndGlyphs" fill="#000000" stroke="#000000" stroke-width="0.2">Ku63x10</text>
<text x="178.00" y="326.00" font-size="10" text-anchor="middle" textLength="30.56" lengthAdjust="spacingAndGlyphs" fill="#000000" stroke="#000000" stroke-width="0.2">212 Nm</text>
<text x="229.00" y="302.80" font-size="10" text-anchor="middle" textLength="33.60" lengthAdjust="spacingAndGlyphs" fill="#000000" stroke="#000000" stroke-width="0.2">Ku63x20</text>
<text x="229.00" y="326.00" font-size="10" text-anchor="middle" textLength="30.56" lengthAdjust="spacingAndGlyphs" fill="#000000" stroke="#000000" stroke-width="0.2">424 Nm</text>
<text x="280.50" y="302.80" font-size="10" text-anchor="middle" textLength="34.00" lengthAdjust="spacingAndGlyphs" fill="#000000" stroke="#000000" stroke-width="0.2">Ku63x10</text>
<text x="280.50" y="326.00" font-size="10" text-anchor="middle" textLength="30.56" lengthAdjust="spacingAndGlyphs" fill="#000000" stroke="#000000" stroke-width="0.2">170 Nm</text>
<text x="331.00" y="302.80" font-size="10" text-anchor="middle" textLength="33.60" lengthAdjust="spacingAndGlyphs" fill="#000000" stroke="#000000" stroke-width="0.2">Ku63x20</text>
<text x="331.00" y="326.00" font-size="10" text-anchor="middle" textLength="30.56" lengthAdjust="spacingAndGlyphs" fill="#000000" stroke="#000000" stroke-width="0.2">340 Nm</text>
<text x="383.00" y="302.80" font-size="10" text-anchor="middle" textLength="34.00" lengthAdjust="spacingAndGlyphs" fill="#000000" stroke="#000000" stroke-width="0.2">Ku63x10</text>
<text x="383.00" y="326.00" font-size="10" text-anchor="middle" textLength="30.56" lengthAdjust="spacingAndGlyphs" fill="#000000" stroke="#000000" stroke-width="0.2">127 Nm</text>
<text x="434.00" y="302.80" font-size="10" text-anchor="middle" textLength="33.60" lengthAdjust="spacingAndGlyphs" fill="#000000" stroke="#000000" stroke-width="0.2">Ku63x20</text>
<text x="434.00" y="326.00" font-size="10" text-anchor="middle" textLength="30.56" lengthAdjust="spacingAndGlyphs" fill="#000000" stroke="#000000" stroke-width="0.2">255 Nm</text>
<text x="485.50" y="302.80" font-size="10" text-anchor="middle" textLength="34.00" lengthAdjust="spacingAndGlyphs" fill="#000000" stroke="#000000" stroke-width="0.2">Ku63x10</text>
<text x="485.50" y="326.00" font-size="10" text-anchor="middle" textLength="30.56" lengthAdjust="spacingAndGlyphs" fill="#000000" stroke="#000000" stroke-width="0.2">106 Nm</text>
<text x="536.00" y="302.80" font-size="10" text-anchor="middle" textLength="33.60" lengthAdjust="spacingAndGlyphs" fill="#000000" stroke="#000000" stroke-width="0.2">Ku63x20</text>
<text x="536.00" y="326.00" font-size="10" text-anchor="middle" textLength="30.56" lengthAdjust="spacingAndGlyphs" fill="#000000" stroke="#000000" stroke-width="0.2">212 Nm</text>
<text x="588.00" y="302.80" font-size="10" text-anchor="middle" textLength="34.00" lengthAdjust="spacingAndGlyphs" fill="#000000" stroke="#000000" stroke-width="0.2">Ku63x10</text>
<text x="588.00" y="326.00" font-size="10" text-anchor="middle" textLength="25.75" lengthAdjust="spacingAndGlyphs" fill="#000000" stroke="#000000" stroke-width="0.2">85 Nm</text>
<text x="639.00" y="302.80" font-size="10" text-anchor="middle" textLength="33.60" lengthAdjust="spacingAndGlyphs" fill="#000000" stroke="#000000" stroke-width="0.2">Ku63x20</text>
<text x="639.00" y="326.00" font-size="10" text-anchor="middle" textLength="30.56" lengthAdjust="spacingAndGlyphs" fill="#000000" stroke="#000000" stroke-width="0.2">170 Nm</text>
<text x="690.50" y="302.80" font-size="10" text-anchor="middle" textLength="34.00" lengthAdjust="spacingAndGlyphs" fill="#000000" stroke="#000000" stroke-width="0.2">Ku63x10</text>
<text x="690.50" y="326.00" font-size="10" text-anchor="middle" textLength="25.75" lengthAdjust="spacingAndGlyphs" fill="#000000" stroke="#000000" stroke-width="0.2">42 Nm</text>
<text x="741.00" y="302.80" font-size="10" text-anchor="middle" textLength="33.60" lengthAdjust="spacingAndGlyphs" fill="#000000" stroke="#000000" stroke-width="0.2">Ku63x20</text>
<text x="741.00" y="326.00" font-size="10" text-anchor="middle" textLength="25.75" lengthAdjust="spacingAndGlyphs" fill="#000000" stroke="#000000" stroke-width="0.2">85 Nm</text>
<text x="793.00" y="302.80" font-size="10" text-anchor="middle" textLength="34.00" lengthAdjust="spacingAndGlyphs" fill="#000000" stroke="#000000" stroke-width="0.2">Ku63x10</text>
<text x="793.00" y="326.00" font-size="10" text-anchor="middle" textLength="25.75" lengthAdjust="spacingAndGlyphs" fill="#000000" stroke="#000000" stroke-width="0.2">21 Nm</text>
<text x="844.50" y="302.80" font-size="10" text-anchor="middle" textLength="33.60" lengthAdjust="spacingAndGlyphs" fill="#000000" stroke="#000000" stroke-width="0.2">Ku63x20</text>
<text x="844.50" y="326.00" font-size="10" text-anchor="middle" textLength="25.75" lengthAdjust="spacingAndGlyphs" fill="#000000" stroke="#000000" stroke-width="0.2">42 Nm</text>
<text x="9.10" y="347.80" font-size="9" text-anchor="start" textLength="27.90" lengthAdjust="spacingAndGlyphs" fill="#000000" stroke="#000000" stroke-width="0.2">[1/min]</text>
<text x="102.50" y="347.80" font-size="9" text-anchor="middle" textLength="31.60" lengthAdjust="spacingAndGlyphs" fill="#000000" stroke="#000000" stroke-width="0.2">[m/min]</text>
<text x="510.50" y="347.80" font-size="9" text-anchor="middle" textLength="23.10" lengthAdjust="spacingAndGlyphs" fill="#000000" stroke="#000000" stroke-width="0.2">P [kW]</text>
<text x="9.00" y="368.00" font-size="10" text-anchor="start" textLength="14.43" lengthAdjust="spacingAndGlyphs" fill="#000000" stroke="#000000" stroke-width="0.2">375</text>
<text x="78.00" y="368.00" font-size="10" text-anchor="middle" textLength="17.21" lengthAdjust="spacingAndGlyphs" fill="#000000" stroke="#000000" stroke-width="0.2">3.75</text>
<text x="127.00" y="368.00" font-size="10" text-anchor="middle" textLength="12.40" lengthAdjust="spacingAndGlyphs" fill="#000000" stroke="#000000" stroke-width="0.2">7.5</text>
<text x="178.00" y="368.00" font-size="10" text-anchor="middle" textLength="12.40" lengthAdjust="spacingAndGlyphs" fill="#000000" stroke="#000000" stroke-width="0.2">8.3</text>
<text x="229.00" y="368.00" font-size="10" text-anchor="middle" textLength="17.21" lengthAdjust="spacingAndGlyphs" fill="#000000" stroke="#000000" stroke-width="0.2">16.7</text>
<text x="280.50" y="368.00" font-size="10" text-anchor="middle" textLength="12.40" lengthAdjust="spacingAndGlyphs" fill="#000000" stroke="#000000" stroke-width="0.2">6.7</text>
<text x="331.00" y="368.00" font-size="10" text-anchor="middle" textLength="17.21" lengthAdjust="spacingAndGlyphs" fill="#000000" stroke="#000000" stroke-width="0.2">13.3</text>
<text x="383.00" y="368.00" font-size="10" text-anchor="middle" textLength="12.40" lengthAdjust="spacingAndGlyphs" fill="#000000" stroke="#000000" stroke-width="0.2">5.0</text>
<text x="434.00" y="368.00" font-size="10" text-anchor="middle" textLength="17.21" lengthAdjust="spacingAndGlyphs" fill="#000000" stroke="#000000" stroke-width="0.2">10.0</text>
<text x="485.50" y="368.00" font-size="10" text-anchor="middle" textLength="12.40" lengthAdjust="spacingAndGlyphs" fill="#000000" stroke="#000000" stroke-width="0.2">4.2</text>
<text x="536.00" y="368.00" font-size="10" text-anchor="middle" textLength="12.40" lengthAdjust="spacingAndGlyphs" fill="#000000" stroke="#000000" stroke-width="0.2">8.3</text>
<text x="588.00" y="368.00" font-size="10" text-anchor="middle" textLength="12.40" lengthAdjust="spacingAndGlyphs" fill="#000000" stroke="#000000" stroke-width="0.2">3.3</text>
<text x="639.00" y="368.00" font-size="10" text-anchor="middle" textLength="12.40" lengthAdjust="spacingAndGlyphs" fill="#000000" stroke="#000000" stroke-width="0.2">6.7</text>
<text x="690.50" y="368.00" font-size="10" text-anchor="middle" textLength="12.40" lengthAdjust="spacingAndGlyphs" fill="#000000" stroke="#000000" stroke-width="0.2">1.7</text>
<text x="741.00" y="368.00" font-size="10" text-anchor="middle" textLength="12.40" lengthAdjust="spacingAndGlyphs" fill="#000000" stroke="#000000" stroke-width="0.2">3.3</text>
<text x="793.00" y="368.00" font-size="10" text-anchor="middle" textLength="12.40" lengthAdjust="spacingAndGlyphs" fill="#000000" stroke="#000000" stroke-width="0.2">0.8</text>
<text x="844.50" y="368.00" font-size="10" text-anchor="middle" textLength="12.40" lengthAdjust="spacingAndGlyphs" fill="#000000" stroke="#000000" stroke-width="0.2">1.7</text>
<text x="9.00" y="389.00" font-size="10" text-anchor="start" textLength="14.43" lengthAdjust="spacingAndGlyphs" fill="#000000" stroke="#000000" stroke-width="0.2">200</text>
<text x="78.00" y="390.00" font-size="10" text-anchor="middle" textLength="4.81" lengthAdjust="spacingAndGlyphs" fill="#000000" stroke="#000000" stroke-width="0.2">2</text>
<text x="127.00" y="390.00" font-size="10" text-anchor="middle" textLength="4.81" lengthAdjust="spacingAndGlyphs" fill="#000000" stroke="#000000" stroke-width="0.2">4</text>
<text x="178.00" y="390.00" font-size="10" text-anchor="middle" textLength="12.40" lengthAdjust="spacingAndGlyphs" fill="#000000" stroke="#000000" stroke-width="0.2">4.4</text>
<text x="229.00" y="390.00" font-size="10" text-anchor="middle" textLength="12.40" lengthAdjust="spacingAndGlyphs" fill="#000000" stroke="#000000" stroke-width="0.2">8.9</text>
<text x="280.50" y="390.00" font-size="10" text-anchor="middle" textLength="12.40" lengthAdjust="spacingAndGlyphs" fill="#000000" stroke="#000000" stroke-width="0.2">3.6</text>
<text x="331.00" y="390.00" font-size="10" text-anchor="middle" textLength="12.40" lengthAdjust="spacingAndGlyphs" fill="#000000" stroke="#000000" stroke-width="0.2">7.1</text>
<text x="383.00" y="390.00" font-size="10" text-anchor="middle" textLength="12.40" lengthAdjust="spacingAndGlyphs" fill="#000000" stroke="#000000" stroke-width="0.2">2.7</text>
<text x="434.00" y="390.00" font-size="10" text-anchor="middle" textLength="12.40" lengthAdjust="spacingAndGlyphs" fill="#000000" stroke="#000000" stroke-width="0.2">5.3</text>
<text x="485.50" y="390.00" font-size="10" text-anchor="middle" textLength="12.40" lengthAdjust="spacingAndGlyphs" fill="#000000" stroke="#000000" stroke-width="0.2">2.2</text>
<text x="536.00" y="390.00" font-size="10" text-anchor="middle" textLength="12.40" lengthAdjust="spacingAndGlyphs" fill="#000000" stroke="#000000" stroke-width="0.2">4.4</text>
<text x="588.00" y="390.00" font-size="10" text-anchor="middle" textLength="12.40" lengthAdjust="spacingAndGlyphs" fill="#000000" stroke="#000000" stroke-width="0.2">1.8</text>
<text x="639.00" y="390.00" font-size="10" text-anchor="middle" textLength="12.40" lengthAdjust="spacingAndGlyphs" fill="#000000" stroke="#000000" stroke-width="0.2">3.6</text>
<text x="690.50" y="390.00" font-size="10" text-anchor="middle" textLength="12.40" lengthAdjust="spacingAndGlyphs" fill="#000000" stroke="#000000" stroke-width="0.2">0.9</text>
<text x="741.00" y="390.00" font-size="10" text-anchor="middle" textLength="12.40" lengthAdjust="spacingAndGlyphs" fill="#000000" stroke="#000000" stroke-width="0.2">1.8</text>
<text x="793.00" y="390.00" font-size="10" text-anchor="middle" textLength="12.40" lengthAdjust="spacingAndGlyphs" fill="#000000" stroke="#000000" stroke-width="0.2">0.4</text>
<text x="844.50" y="390.00" font-size="10" text-anchor="middle" textLength="12.40" lengthAdjust="spacingAndGlyphs" fill="#000000" stroke="#000000" stroke-width="0.2">0.9</text>
<text x="9.00" y="410.00" font-size="10" text-anchor="start" textLength="14.43" lengthAdjust="spacingAndGlyphs" fill="#000000" stroke="#000000" stroke-width="0.2">125</text>
<text x="78.00" y="411.00" font-size="10" text-anchor="middle" textLength="17.21" lengthAdjust="spacingAndGlyphs" fill="#000000" stroke="#000000" stroke-width="0.2">1.25</text>
<text x="127.00" y="411.00" font-size="10" text-anchor="middle" textLength="12.40" lengthAdjust="spacingAndGlyphs" fill="#000000" stroke="#000000" stroke-width="0.2">2.5</text>
<text x="178.00" y="411.00" font-size="10" text-anchor="middle" textLength="12.40" lengthAdjust="spacingAndGlyphs" fill="#000000" stroke="#000000" stroke-width="0.2">2.8</text>
<text x="229.00" y="411.00" font-size="10" text-anchor="middle" textLength="12.40" lengthAdjust="spacingAndGlyphs" fill="#000000" stroke="#000000" stroke-width="0.2">5.6</text>
<text x="280.50" y="411.00" font-size="10" text-anchor="middle" textLength="12.40" lengthAdjust="spacingAndGlyphs" fill="#000000" stroke="#000000" stroke-width="0.2">2.2</text>
<text x="331.00" y="411.00" font-size="10" text-anchor="middle" textLength="12.40" lengthAdjust="spacingAndGlyphs" fill="#000000" stroke="#000000" stroke-width="0.2">4.4</text>
<text x="383.00" y="411.00" font-size="10" text-anchor="middle" textLength="12.40" lengthAdjust="spacingAndGlyphs" fill="#000000" stroke="#000000" stroke-width="0.2">1.7</text>
<text x="434.00" y="411.00" font-size="10" text-anchor="middle" textLength="12.40" lengthAdjust="spacingAndGlyphs" fill="#000000" stroke="#000000" stroke-width="0.2">3.3</text>
<text x="485.50" y="411.00" font-size="10" text-anchor="middle" textLength="12.40" lengthAdjust="spacingAndGlyphs" fill="#000000" stroke="#000000" stroke-width="0.2">1.4</text>
<text x="536.00" y="411.00" font-size="10" text-anchor="middle" textLength="12.40" lengthAdjust="spacingAndGlyphs" fill="#000000" stroke="#000000" stroke-width="0.2">2.8</text>
<text x="588.00" y="411.00" font-size="10" text-anchor="middle" textLength="12.40" lengthAdjust="spacingAndGlyphs" fill="#000000" stroke="#000000" stroke-width="0.2">1.1</text>
<text x="639.00" y="411.00" font-size="10" text-anchor="middle" textLength="12.40" lengthAdjust="spacingAndGlyphs" fill="#000000" stroke="#000000" stroke-width="0.2">2.2</text>
<text x="690.50" y="411.00" font-size="10" text-anchor="middle" textLength="12.40" lengthAdjust="spacingAndGlyphs" fill="#000000" stroke="#000000" stroke-width="0.2">0.6</text>
<text x="741.00" y="411.00" font-size="10" text-anchor="middle" textLength="12.40" lengthAdjust="spacingAndGlyphs" fill="#000000" stroke="#000000" stroke-width="0.2">1.1</text>
<text x="793.00" y="411.00" font-size="10" text-anchor="middle" textLength="12.40" lengthAdjust="spacingAndGlyphs" fill="#000000" stroke="#000000" stroke-width="0.2">0.3</text>
<text x="844.50" y="411.00" font-size="10" text-anchor="middle" textLength="12.40" lengthAdjust="spacingAndGlyphs" fill="#000000" stroke="#000000" stroke-width="0.2">0.6</text>
<text x="9.00" y="431.00" font-size="10" text-anchor="start" textLength="9.62" lengthAdjust="spacingAndGlyphs" fill="#000000" stroke="#000000" stroke-width="0.2">75</text>
<text x="78.00" y="432.00" font-size="10" text-anchor="middle" textLength="17.21" lengthAdjust="spacingAndGlyphs" fill="#000000" stroke="#000000" stroke-width="0.2">0.75</text>
<text x="127.00" y="432.00" font-size="10" text-anchor="middle" textLength="12.40" lengthAdjust="spacingAndGlyphs" fill="#000000" stroke="#000000" stroke-width="0.2">1.5</text>
<text x="178.00" y="432.00" font-size="10" text-anchor="middle" textLength="12.40" lengthAdjust="spacingAndGlyphs" fill="#000000" stroke="#000000" stroke-width="0.2">1.7</text>
<text x="229.00" y="432.00" font-size="10" text-anchor="middle" textLength="12.40" lengthAdjust="spacingAndGlyphs" fill="#000000" stroke="#000000" stroke-width="0.2">3.3</text>
<text x="280.50" y="432.00" font-size="10" text-anchor="middle" textLength="12.40" lengthAdjust="spacingAndGlyphs" fill="#000000" stroke="#000000" stroke-width="0.2">1.3</text>
<text x="331.00" y="432.00" font-size="10" text-anchor="middle" textLength="12.40" lengthAdjust="spacingAndGlyphs" fill="#000000" stroke="#000000" stroke-width="0.2">2.7</text>
<text x="383.00" y="432.00" font-size="10" text-anchor="middle" textLength="12.40" lengthAdjust="spacingAndGlyphs" fill="#000000" stroke="#000000" stroke-width="0.2">1.0</text>
<text x="434.00" y="432.00" font-size="10" text-anchor="middle" textLength="12.40" lengthAdjust="spacingAndGlyphs" fill="#000000" stroke="#000000" stroke-width="0.2">2.0</text>
<text x="485.50" y="432.00" font-size="10" text-anchor="middle" textLength="12.40" lengthAdjust="spacingAndGlyphs" fill="#000000" stroke="#000000" stroke-width="0.2">0.8</text>
<text x="536.00" y="432.00" font-size="10" text-anchor="middle" textLength="12.40" lengthAdjust="spacingAndGlyphs" fill="#000000" stroke="#000000" stroke-width="0.2">1.7</text>
<text x="588.00" y="432.00" font-size="10" text-anchor="middle" textLength="12.40" lengthAdjust="spacingAndGlyphs" fill="#000000" stroke="#000000" stroke-width="0.2">0.7</text>
<text x="639.00" y="432.00" font-size="10" text-anchor="middle" textLength="12.40" lengthAdjust="spacingAndGlyphs" fill="#000000" stroke="#000000" stroke-width="0.2">1.3</text>
<text x="690.50" y="432.00" font-size="10" text-anchor="middle" textLength="12.40" lengthAdjust="spacingAndGlyphs" fill="#000000" stroke="#000000" stroke-width="0.2">0.3</text>
<text x="741.00" y="432.00" font-size="10" text-anchor="middle" textLength="12.40" lengthAdjust="spacingAndGlyphs" fill="#000000" stroke="#000000" stroke-width="0.2">0.7</text>
<text x="793.00" y="432.00" font-size="10" text-anchor="middle" textLength="12.40" lengthAdjust="spacingAndGlyphs" fill="#000000" stroke="#000000" stroke-width="0.2">0.2</text>
<text x="844.50" y="432.00" font-size="10" text-anchor="middle" textLength="12.40" lengthAdjust="spacingAndGlyphs" fill="#000000" stroke="#000000" stroke-width="0.2">0.3</text>
<text x="9.00" y="453.00" font-size="10" text-anchor="start" textLength="9.62" lengthAdjust="spacingAndGlyphs" fill="#000000" stroke="#000000" stroke-width="0.2">25</text>
<text x="78.00" y="453.00" font-size="10" text-anchor="middle" textLength="17.21" lengthAdjust="spacingAndGlyphs" fill="#000000" stroke="#000000" stroke-width="0.2">0.25</text>
<text x="127.00" y="453.00" font-size="10" text-anchor="middle" textLength="12.40" lengthAdjust="spacingAndGlyphs" fill="#000000" stroke="#000000" stroke-width="0.2">0.5</text>
<text x="178.00" y="453.00" font-size="10" text-anchor="middle" textLength="12.40" lengthAdjust="spacingAndGlyphs" fill="#000000" stroke="#000000" stroke-width="0.2">0.6</text>
<text x="229.00" y="453.00" font-size="10" text-anchor="middle" textLength="12.40" lengthAdjust="spacingAndGlyphs" fill="#000000" stroke="#000000" stroke-width="0.2">1.1</text>
<text x="280.50" y="453.00" font-size="10" text-anchor="middle" textLength="12.40" lengthAdjust="spacingAndGlyphs" fill="#000000" stroke="#000000" stroke-width="0.2">0.4</text>
<text x="331.00" y="453.00" font-size="10" text-anchor="middle" textLength="12.40" lengthAdjust="spacingAndGlyphs" fill="#000000" stroke="#000000" stroke-width="0.2">0.9</text>
<text x="383.00" y="453.00" font-size="10" text-anchor="middle" textLength="12.40" lengthAdjust="spacingAndGlyphs" fill="#000000" stroke="#000000" stroke-width="0.2">0.3</text>
<text x="434.00" y="453.00" font-size="10" text-anchor="middle" textLength="12.40" lengthAdjust="spacingAndGlyphs" fill="#000000" stroke="#000000" stroke-width="0.2">0.7</text>
<text x="485.50" y="453.00" font-size="10" text-anchor="middle" textLength="12.40" lengthAdjust="spacingAndGlyphs" fill="#000000" stroke="#000000" stroke-width="0.2">0.3</text>
<text x="536.00" y="453.00" font-size="10" text-anchor="middle" textLength="12.40" lengthAdjust="spacingAndGlyphs" fill="#000000" stroke="#000000" stroke-width="0.2">0.6</text>
<text x="588.00" y="453.00" font-size="10" text-anchor="middle" textLength="12.40" lengthAdjust="spacingAndGlyphs" fill="#000000" stroke="#000000" stroke-width="0.2">0.2</text>
<text x="639.00" y="453.00" font-size="10" text-anchor="middle" textLength="12.40" lengthAdjust="spacingAndGlyphs" fill="#000000" stroke="#000000" stroke-width="0.2">0.4</text>
<text x="690.50" y="453.00" font-size="10" text-anchor="middle" textLength="12.40" lengthAdjust="spacingAndGlyphs" fill="#000000" stroke="#000000" stroke-width="0.2">0.1</text>
<text x="741.00" y="453.00" font-size="10" text-anchor="middle" textLength="12.40" lengthAdjust="spacingAndGlyphs" fill="#000000" stroke="#000000" stroke-width="0.2">0.2</text>
<text x="793.00" y="453.00" font-size="10" text-anchor="middle" textLength="12.40" lengthAdjust="spacingAndGlyphs" fill="#000000" stroke="#000000" stroke-width="0.2">0.1</text>
<text x="844.50" y="453.00" font-size="10" text-anchor="middle" textLength="12.40" lengthAdjust="spacingAndGlyphs" fill="#000000" stroke="#000000" stroke-width="0.2">0.1</text>
<text x="4.20" y="551.00" font-size="12" text-anchor="start" textLength="149.81" lengthAdjust="spacingAndGlyphs" fill="#262626">All performance data refer to the</text>
<text x="157.00" y="551.00" font-size="12" text-anchor="start" textLength="201.48" lengthAdjust="spacingAndGlyphs" fill="#262626">dynamic lifting force and a duty cycle of</text>
<text x="360.20" y="551.00" font-size="12" text-anchor="start" textLength="18.61" lengthAdjust="spacingAndGlyphs" fill="#262626">20%</text>
<line x1="387.20" y1="543.2" x2="384.50" y2="553.6" stroke="#1a1a1a" stroke-width="1.0" shape-rendering="geometricPrecision"/>
<text x="392.20" y="551.00" font-size="12" text-anchor="start" textLength="30.50" lengthAdjust="spacingAndGlyphs" fill="#262626">h or of</text>
<text x="427.10" y="551.00" font-size="12" text-anchor="start" textLength="18.91" lengthAdjust="spacingAndGlyphs" fill="#262626">30%</text>
<line x1="453.40" y1="543.2" x2="450.70" y2="553.6" stroke="#1a1a1a" stroke-width="1.0" shape-rendering="geometricPrecision"/>
<text x="460.60" y="551.00" font-size="12" text-anchor="start" textLength="65.21" lengthAdjust="spacingAndGlyphs" fill="#262626">10 min. at 20</text>
<text x="531.00" y="551.00" font-size="12" text-anchor="start" textLength="4.40" lengthAdjust="spacingAndGlyphs" fill="#262626">°</text>
<text x="539.90" y="551.00" font-size="12" text-anchor="start" textLength="114.20" lengthAdjust="spacingAndGlyphs" fill="#262626">C ambient temperature.</text>
<rect x="4" y="572" width="26" height="26" fill="#d0d2d2"/>
<text x="41.30" y="580.80" font-size="12" text-anchor="start" textLength="411.70" lengthAdjust="spacingAndGlyphs" fill="#262626">ALS – ALS/R with Tr: the screw/nut system is overheated in fields highlighted in grey.</text>
<text x="41.30" y="595.40" font-size="12" text-anchor="start" textLength="432.80" lengthAdjust="spacingAndGlyphs" fill="#262626">ALS – ALSR with Ku: the service life falls below 500 hours in the fields highlighted in grey.</text>
<rect x="585" y="570" width="26" height="26" fill="#aebbdf"/>
<text x="616.20" y="580.00" font-size="12" text-anchor="start" textLength="152.90" lengthAdjust="spacingAndGlyphs" fill="#262626">ALS – ALS/R with Tr: only static</text>
<text x="616.20" y="594.20" font-size="12" text-anchor="start" textLength="104.70" lengthAdjust="spacingAndGlyphs" fill="#262626">(dynamic not allowed)</text>
</svg>
</body></html>
